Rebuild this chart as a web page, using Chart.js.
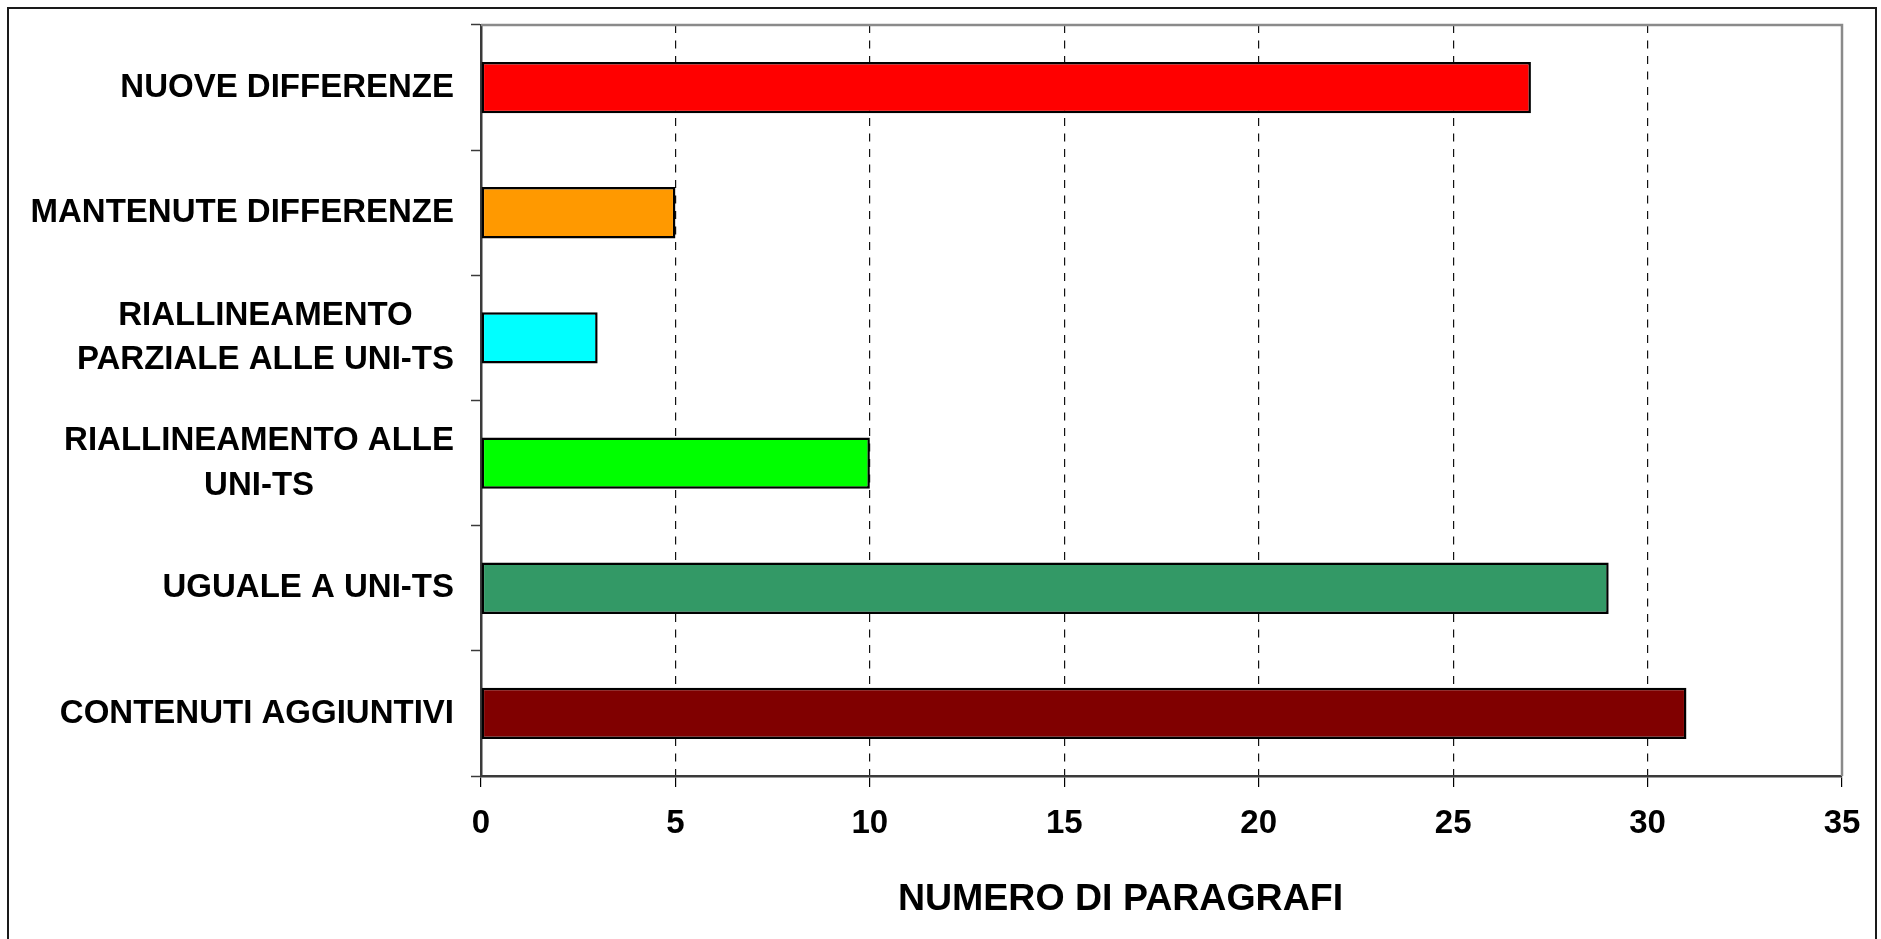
<!DOCTYPE html>
<html>
<head>
<meta charset="utf-8">
<script src="https://cdn.jsdelivr.net/npm/chart.js@4/dist/chart.umd.min.js"></script>
<style>
  html, body { margin: 0; padding: 0; background: #fff; }
  #wrap { position: relative; width: 1881px; height: 939px; overflow: hidden; }
  #frame { position: absolute; left: 7px; top: 7px; width: 1866px; height: 1000px;
           border: 2px solid #1a1a1a; pointer-events: none; }
  canvas { display: block; }
</style>
</head>
<body>
<div id="wrap">
  <canvas id="chart" width="1881" height="939"></canvas>
  <div id="frame"></div>
</div>
<script>
// Categories (top to bottom), one array of lines per label
const categories = [
  ['NUOVE DIFFERENZE'],
  ['MANTENUTE DIFFERENZE'],
  ['RIALLINEAMENTO', 'PARZIALE ALLE UNI-TS'],
  ['RIALLINEAMENTO ALLE', 'UNI-TS'],
  ['UGUALE A UNI-TS'],
  ['CONTENUTI AGGIUNTIVI']
];
// Number of paragraphs in each category
const paragraphCounts = [27, 5, 3, 10, 29, 31];
const barColors = ['#FF0000', '#FF9900', '#00FFFF', '#00FF00', '#339966', '#800000'];
// Value axis
const axisMin = 0;
const axisMax = 35;
const axisStep = 5;
const axisTitle = 'NUMERO DI PARAGRAFI';

const FONT = "'Liberation Sans', Arial, Helvetica, sans-serif";
const labelFont = { family: FONT, size: 33, weight: 'bold', lineHeight: 1.36 };
const Y_TICK_LEN = 10;
const Y_TICK_PAD = 17;

// Gray frame on the top and right of the plot area
const plotFrame = {
  id: 'plotFrame',
  beforeDatasetsDraw(chart) {
    const { ctx, chartArea: a } = chart;
    ctx.save();
    ctx.strokeStyle = '#8a8a8a';
    ctx.lineWidth = 2.5;
    ctx.beginPath();
    ctx.moveTo(a.left, a.top);
    ctx.lineTo(a.right, a.top);
    ctx.lineTo(a.right, a.bottom);
    ctx.stroke();
    ctx.restore();
  }
};

// Category labels: each block right-aligned to the axis, its lines centred on each other
const centredLabels = {
  id: 'centredLabels',
  afterDraw(chart) {
    const { ctx } = chart;
    const y = chart.scales.y;
    const lh = labelFont.size * labelFont.lineHeight;
    ctx.save();
    ctx.font = `${labelFont.weight} ${labelFont.size}px ${FONT}`;
    ctx.fillStyle = '#000';
    ctx.textAlign = 'center';
    ctx.textBaseline = 'middle';
    const rightEdge = y.right - Y_TICK_LEN - Y_TICK_PAD;
    categories.forEach((lines, i) => {
      const cy = y.getPixelForTick(i);
      const w = Math.max(...lines.map(l => ctx.measureText(l).width));
      const cx = rightEdge - w / 2;
      lines.forEach((line, k) => {
        ctx.fillText(line, cx, cy + (k - (lines.length - 1) / 2) * lh);
      });
    });
    ctx.restore();
  }
};

// Value-axis title
const valueAxisTitle = {
  id: 'valueAxisTitle',
  afterDraw(chart) {
    const { ctx } = chart;
    const x = chart.scales.x;
    ctx.save();
    ctx.font = `bold 37.5px ${FONT}`;
    ctx.fillStyle = '#000';
    ctx.textAlign = 'center';
    ctx.textBaseline = 'alphabetic';
    ctx.fillText(axisTitle, (x.left + x.right) / 2 - 41, x.bottom - 29);
    ctx.restore();
  }
};

new Chart(document.getElementById('chart'), {
  type: 'bar',
  data: {
    labels: categories,
    datasets: [{
      data: paragraphCounts,
      backgroundColor: barColors,
      borderColor: '#000',
      borderWidth: 2.5,
      borderSkipped: false,
      categoryPercentage: 1,
      barPercentage: 0.41
    }]
  },
  options: {
    indexAxis: 'y',
    responsive: false,
    animation: false,
    layout: { padding: { top: 25, right: 39, bottom: 0, left: 0 } },
    plugins: {
      legend: { display: false },
      tooltip: { enabled: false }
    },
    scales: {
      x: {
        min: axisMin,
        max: axisMax,
        ticks: {
          stepSize: axisStep,
          color: '#000',
          font: { family: FONT, size: 33, weight: 'bold' },
          padding: 17
        },
        grid: {
          color: ctx => (ctx.tick && (ctx.tick.value === axisMin || ctx.tick.value === axisMax)) ? 'rgba(0,0,0,0)' : '#111',
          lineWidth: 1.2,
          tickColor: '#000',
          tickLength: 11,
          tickWidth: 1.2
        },
        border: { display: true, color: '#3a3a3a', width: 2.5, dash: [8, 7.5] },
        afterFit(scale) { scale.height = 163; }
      },
      y: {
        ticks: { display: false },
        grid: {
          offset: true,
          drawOnChartArea: false,
          tickColor: '#3a3a3a',
          tickLength: Y_TICK_LEN,
          tickWidth: 1.5
        },
        border: { display: true, color: '#3a3a3a', width: 2.5 },
        afterFit(scale) { scale.width = 481; }
      }
    }
  },
  plugins: [plotFrame, centredLabels, valueAxisTitle]
});
</script>
</body>
</html>
